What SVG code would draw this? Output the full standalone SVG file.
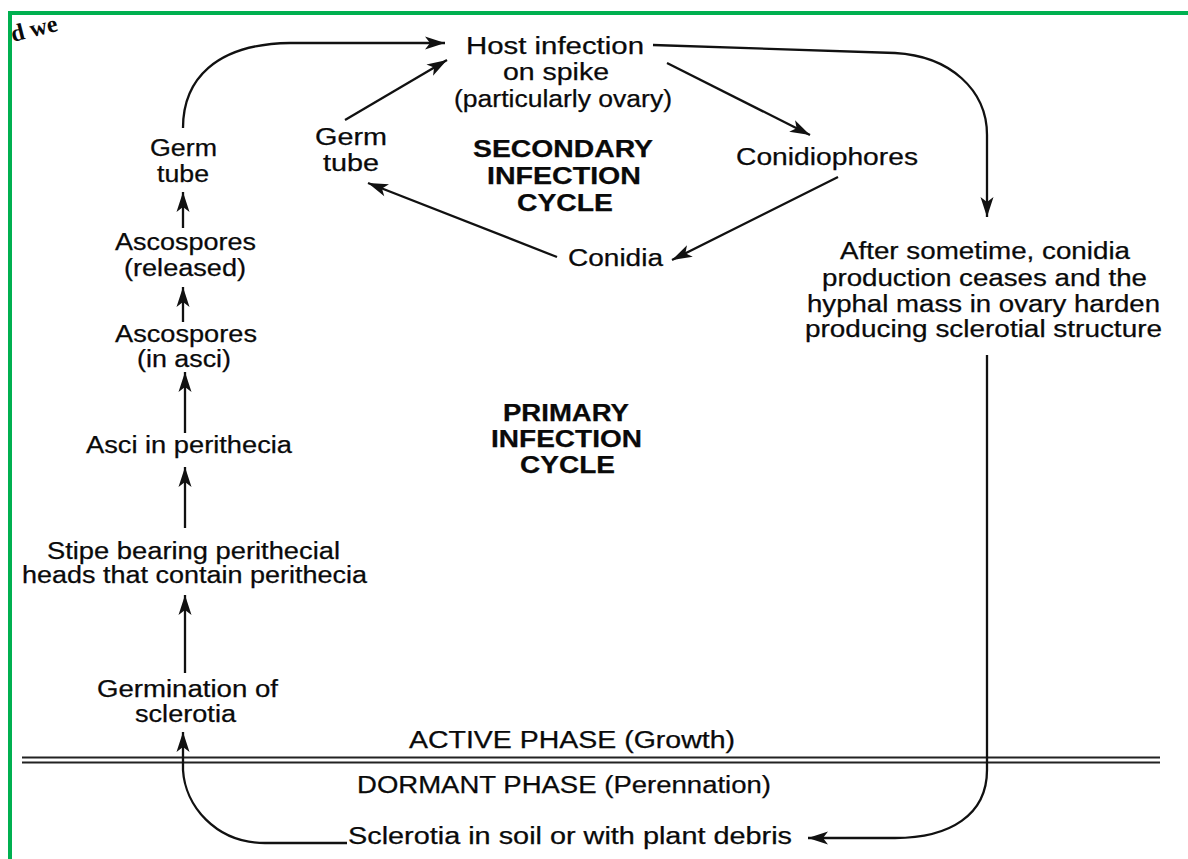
<svg xmlns="http://www.w3.org/2000/svg" width="1188" height="859" viewBox="0 0 1188 859">
<style>
  text { font-family: "Liberation Sans", Arial, sans-serif; font-size: 23px; fill: #0a0a0a; stroke: #0a0a0a; stroke-width: 0.25; }
  text.b { font-weight: bold; }
  .c { fill: none; stroke: #111; stroke-width: 2.3; }
  .rule { stroke: #222; stroke-width: 1.9; fill: none; }
  .frame { stroke: #00b050; fill: none; }
</style>
<defs>
  <marker id="ah" markerUnits="userSpaceOnUse" markerWidth="21" markerHeight="14" refX="20" refY="7" orient="auto" overflow="visible">
    <path d="M0,0.5 L20,7 L0,13.5 L5,7 Z" fill="#111"/>
  </marker>
</defs>
<rect width="1188" height="859" fill="#fff"/>
<g id="frame">
  <line class="frame" x1="8" y1="13" x2="1188" y2="13" stroke-width="4"/>
  <line class="frame" x1="10" y1="11" x2="10" y2="859" stroke-width="4"/>
</g>
<text x="13" y="42" transform="rotate(-14 13 42)" style="font-family:'Liberation Serif',serif;font-size:24px;font-weight:bold;stroke:none">d we</text>
<g id="phase-divider">
  <line class="rule" x1="22" y1="757.5" x2="1160" y2="757.5"/>
  <line class="rule" x1="22" y1="762.5" x2="1160" y2="762.5"/>
</g>
<g id="connectors">
  <path class="c" d="M183,128 C183,80 215,44 290,43 L445,43" marker-end="url(#ah)"/>
  <line class="c" x1="345" y1="120" x2="447" y2="60" marker-end="url(#ah)"/>
  <line class="c" x1="667" y1="63" x2="810" y2="135" marker-end="url(#ah)"/>
  <line class="c" x1="838" y1="177" x2="672" y2="260" marker-end="url(#ah)"/>
  <line class="c" x1="557" y1="257" x2="368" y2="183" marker-end="url(#ah)"/>
  <path class="c" d="M653,45 L895,53 C950,56 987,90 987,135 L987,217" marker-end="url(#ah)"/>
  <path class="c" d="M987,355 L987,770 C987,815 950,838 895,838 L808,838" marker-end="url(#ah)"/>
  <path class="c" d="M347,843 L265,843 C215,843 185,805 183,770 L183,732" marker-end="url(#ah)"/>
  <line class="c" x1="185" y1="673" x2="185" y2="595" marker-end="url(#ah)"/>
  <line class="c" x1="185" y1="528" x2="185" y2="467" marker-end="url(#ah)"/>
  <line class="c" x1="185" y1="433" x2="185" y2="372" marker-end="url(#ah)"/>
  <line class="c" x1="183" y1="322" x2="183" y2="287" marker-end="url(#ah)"/>
  <line class="c" x1="183" y1="228" x2="183" y2="192" marker-end="url(#ah)"/>
</g>
<g id="host-infection">
  <text x="466" y="54" textLength="178" lengthAdjust="spacingAndGlyphs">Host infection</text>
  <text x="503" y="80" textLength="106" lengthAdjust="spacingAndGlyphs">on spike</text>
  <text x="454" y="107" textLength="218" lengthAdjust="spacingAndGlyphs">(particularly ovary)</text>
</g>
<g id="germ-tube-primary">
  <text x="150" y="156" textLength="67" lengthAdjust="spacingAndGlyphs">Germ</text>
  <text x="157" y="182" textLength="52" lengthAdjust="spacingAndGlyphs">tube</text>
</g>
<g id="germ-tube-secondary">
  <text x="315" y="145" textLength="72" lengthAdjust="spacingAndGlyphs">Germ</text>
  <text x="323" y="171" textLength="56" lengthAdjust="spacingAndGlyphs">tube</text>
</g>
<g id="secondary-label">
  <text class="b" x="473" y="157" textLength="180" lengthAdjust="spacingAndGlyphs">SECONDARY</text>
  <text class="b" x="487" y="184" textLength="154" lengthAdjust="spacingAndGlyphs">INFECTION</text>
  <text class="b" x="517" y="211" textLength="96" lengthAdjust="spacingAndGlyphs">CYCLE</text>
</g>
<g id="conidiophores">
  <text x="736" y="165" textLength="182" lengthAdjust="spacingAndGlyphs">Conidiophores</text>
</g>
<g id="conidia">
  <text x="568" y="266" textLength="95" lengthAdjust="spacingAndGlyphs">Conidia</text>
</g>
<g id="ascospores-released">
  <text x="115" y="250" textLength="141" lengthAdjust="spacingAndGlyphs">Ascospores</text>
  <text x="124" y="276" textLength="122" lengthAdjust="spacingAndGlyphs">(released)</text>
</g>
<g id="ascospores-in-asci">
  <text x="115" y="342" textLength="142" lengthAdjust="spacingAndGlyphs">Ascospores</text>
  <text x="137" y="367" textLength="94" lengthAdjust="spacingAndGlyphs">(in asci)</text>
</g>
<g id="asci-in-perithecia">
  <text x="86" y="453" textLength="206" lengthAdjust="spacingAndGlyphs">Asci in perithecia</text>
</g>
<g id="primary-label">
  <text class="b" x="503" y="421" textLength="126" lengthAdjust="spacingAndGlyphs">PRIMARY</text>
  <text class="b" x="491" y="447" textLength="151" lengthAdjust="spacingAndGlyphs">INFECTION</text>
  <text class="b" x="520" y="473" textLength="95" lengthAdjust="spacingAndGlyphs">CYCLE</text>
</g>
<g id="stipe">
  <text x="47" y="559" textLength="293" lengthAdjust="spacingAndGlyphs">Stipe bearing perithecial</text>
  <text x="22" y="583" textLength="345" lengthAdjust="spacingAndGlyphs">heads that contain perithecia</text>
</g>
<g id="germination">
  <text x="97" y="697" textLength="181" lengthAdjust="spacingAndGlyphs">Germination of</text>
  <text x="135" y="722" textLength="101" lengthAdjust="spacingAndGlyphs">sclerotia</text>
</g>
<g id="sclerotial-structure">
  <text x="840" y="259" textLength="290" lengthAdjust="spacingAndGlyphs">After sometime, conidia</text>
  <text x="822" y="286" textLength="325" lengthAdjust="spacingAndGlyphs">production ceases and the</text>
  <text x="807" y="312" textLength="353" lengthAdjust="spacingAndGlyphs">hyphal mass in ovary harden</text>
  <text x="805" y="337" textLength="357" lengthAdjust="spacingAndGlyphs">producing sclerotial structure</text>
</g>
<g id="active-phase">
  <text x="409" y="748" textLength="326" lengthAdjust="spacingAndGlyphs">ACTIVE PHASE (Growth)</text>
</g>
<g id="dormant-phase">
  <text x="357" y="793" textLength="414" lengthAdjust="spacingAndGlyphs">DORMANT PHASE (Perennation)</text>
</g>
<g id="sclerotia-soil">
  <text x="348" y="844" textLength="444" lengthAdjust="spacingAndGlyphs">Sclerotia in soil or with plant debris</text>
</g>
</svg>
